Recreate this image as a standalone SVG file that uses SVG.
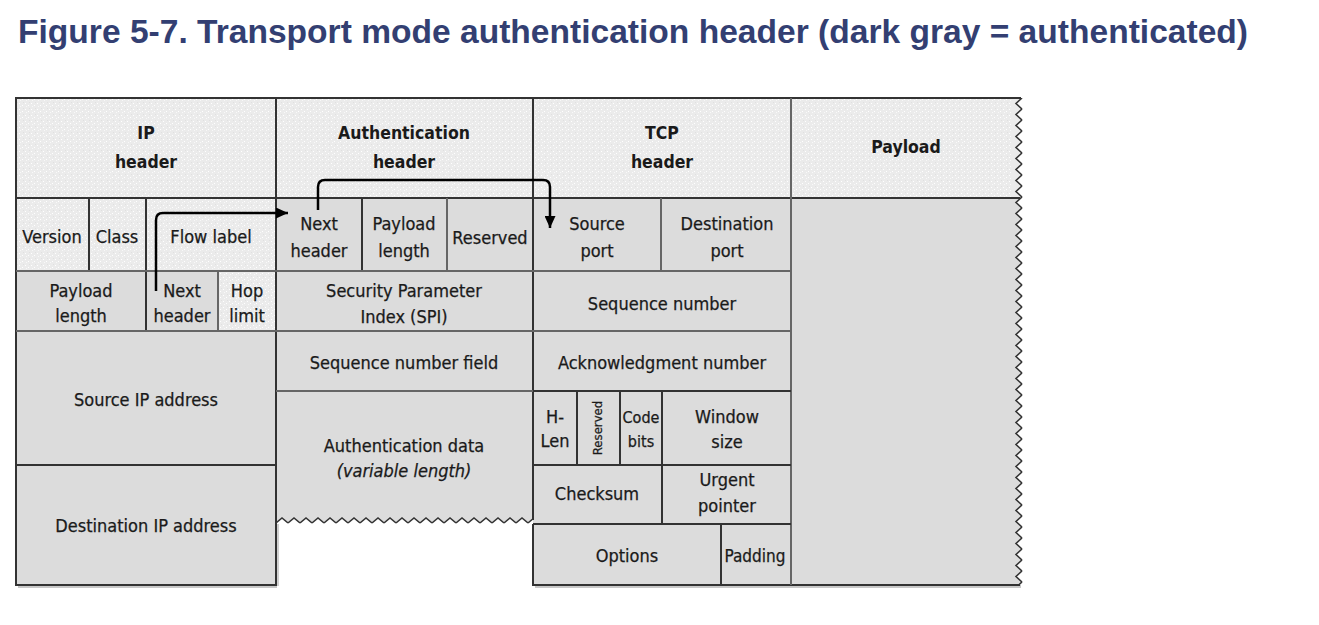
<svg xmlns="http://www.w3.org/2000/svg" width="1319" height="625" viewBox="0 0 1319 625">
<style>
.t{font-family:"DejaVu Sans Condensed","Liberation Sans Narrow","Liberation Sans",sans-serif;font-stretch:condensed;font-size:18px;fill:#1a1a1a;stroke:#1a1a1a;stroke-width:0.25;text-anchor:middle}
.h{font-family:"DejaVu Sans Condensed","Liberation Sans Narrow","Liberation Sans",sans-serif;font-stretch:condensed;font-size:17.5px;font-weight:bold;fill:#1a1a1a;text-anchor:middle}
.sm{font-size:16px}
.it{font-style:italic}
.st{fill:url(#stip)}
.dk{fill:#dcdcdc}
.ln{stroke:#333;stroke-width:2;fill:none}
.lg{stroke:#666;stroke-width:2;fill:none}
.title{font-family:"Liberation Sans",Arial,sans-serif;font-weight:bold;font-size:33px;fill:#333f72}
.arr{stroke:#000;stroke-width:2.5;fill:none;marker-end:url(#ah)}
</style>
<defs>
<pattern id="stip" patternUnits="userSpaceOnUse" width="6" height="6">
<rect width="6" height="6" fill="#ebebeb"/>
<rect x="1" y="1" width="1" height="1" fill="#fff"/>
<rect x="4" y="3" width="1" height="1" fill="#fff"/>
<rect x="2" y="4" width="1" height="1" fill="#f8f8f8"/>
<rect x="5" y="0" width="1" height="1" fill="#e0e0e0"/>
</pattern>
<pattern id="zzH" patternUnits="userSpaceOnUse" x="276" y="514" width="12" height="14">
<path d="M0,0 H12 V9 L6,4 L0,9 Z" fill="#dcdcdc"/>
<path d="M0,9 L6,4 L12,9" stroke="#333" stroke-width="1.6" fill="none"/>
</pattern>
<pattern id="zzV" patternUnits="userSpaceOnUse" x="1012" y="98" width="14" height="11">
<path d="M0,0 H10 L4,5.5 L10,11 H0 Z" fill="#dcdcdc"/>
<path d="M10,0 L4,5.5 L10,11" stroke="#333" stroke-width="1.6" fill="none"/>
</pattern>
<pattern id="zzVs" patternUnits="userSpaceOnUse" x="1012" y="98" width="14" height="11">
<path d="M0,0 H10 L4,5.5 L10,11 H0 Z" fill="#ebebeb"/>
<path d="M10,0 L4,5.5 L10,11" stroke="#333" stroke-width="1.6" fill="none"/>
</pattern>
<marker id="ah" markerUnits="userSpaceOnUse" markerWidth="13" markerHeight="11" refX="12" refY="5.5" orient="auto">
<path d="M0,0 L12,5.5 L0,11 Z" fill="#000"/>
</marker>
</defs>
<rect width="1319" height="625" fill="#fff"/>
<text class="title" x="18" y="43" textLength="1230" lengthAdjust="spacingAndGlyphs">Figure 5-7. Transport mode authentication header (dark gray = authenticated)</text>

<!-- shadow -->
<rect x="18" y="585" width="259" height="3" fill="#c8c8c8"/>
<rect x="535" y="585" width="486" height="3" fill="#c8c8c8"/>
<rect x="276" y="524" width="3" height="62" fill="#d0d0d0"/>

<g id="ip-header"><rect class="st" x="16" y="98" width="260" height="100"/><text class="h" x="146" y="139">IP</text><text class="h" x="146" y="168">header</text></g>
<g id="ip-version"><rect class="st" x="16" y="198" width="73" height="73"/><text class="t" x="52" y="243">Version</text></g>
<g id="ip-class"><rect class="st" x="89" y="198" width="57" height="73"/><text class="t" x="117" y="243">Class</text></g>
<g id="ip-flow"><rect class="st" x="146" y="198" width="130" height="73"/><text class="t" x="211" y="243">Flow label</text></g>
<g id="ip-paylen"><rect class="dk" x="16" y="271" width="130" height="60"/><text class="t" x="81" y="297">Payload</text><text class="t" x="81" y="322">length</text></g>
<g id="ip-next"><rect class="dk" x="146" y="271" width="72" height="60"/><text class="t" x="182" y="297">Next</text><text class="t" x="182" y="322">header</text></g>
<g id="ip-hop"><rect class="st" x="218" y="271" width="58" height="60"/><text class="t" x="247" y="297">Hop</text><text class="t" x="247" y="322">limit</text></g>
<g id="ip-src"><rect class="dk" x="16" y="331" width="260" height="134"/><text class="t" x="146" y="406">Source IP address</text></g>
<g id="ip-dst"><rect class="dk" x="16" y="465" width="260" height="120"/><text class="t" x="146" y="532">Destination IP address</text></g>

<g id="ah-header"><rect class="st" x="276" y="98" width="257" height="100"/><text class="h" x="404" y="139">Authentication</text><text class="h" x="404" y="168">header</text></g>
<g id="ah-next"><rect class="dk" x="276" y="198" width="86" height="73"/><text class="t" x="319" y="230">Next</text><text class="t" x="319" y="257">header</text></g>
<g id="ah-paylen"><rect class="dk" x="362" y="198" width="85" height="73"/><text class="t" x="404" y="230">Payload</text><text class="t" x="404" y="257">length</text></g>
<g id="ah-reserved"><rect class="dk" x="447" y="198" width="86" height="73"/><text class="t" x="490" y="244">Reserved</text></g>
<g id="ah-spi"><rect class="dk" x="276" y="271" width="257" height="60"/><text class="t" x="404" y="297">Security Parameter</text><text class="t" x="404" y="323">Index (SPI)</text></g>
<g id="ah-seq"><rect class="dk" x="276" y="331" width="257" height="60"/><text class="t" x="404" y="369">Sequence number field</text></g>
<g id="ah-data"><rect class="dk" x="276" y="391" width="257" height="124"/><rect x="276" y="514" width="257" height="14" fill="url(#zzH)"/><text class="t" x="404" y="452">Authentication data</text><text class="t it" x="404" y="477">(variable length)</text></g>

<g id="tcp-header"><rect class="st" x="533" y="98" width="258" height="100"/><text class="h" x="662" y="139">TCP</text><text class="h" x="662" y="168">header</text></g>
<g id="tcp-srcport"><rect class="dk" x="533" y="198" width="128" height="73"/><text class="t" x="597" y="230">Source</text><text class="t" x="597" y="257">port</text></g>
<g id="tcp-dstport"><rect class="dk" x="661" y="198" width="130" height="73"/><text class="t" x="727" y="230">Destination</text><text class="t" x="727" y="257">port</text></g>
<g id="tcp-seq"><rect class="dk" x="533" y="271" width="258" height="60"/><text class="t" x="662" y="310">Sequence number</text></g>
<g id="tcp-ack"><rect class="dk" x="533" y="331" width="258" height="60"/><text class="t" x="662" y="369">Acknowledgment number</text></g>
<g id="tcp-hlen"><rect class="dk" x="533" y="391" width="44" height="74"/><text class="t" x="555" y="423">H-</text><text class="t" x="555" y="447">Len</text></g>
<g id="tcp-reserved"><rect class="dk" x="577" y="391" width="43" height="74"/><text class="t" style="font-size:13px" transform="translate(602,428) rotate(-90)">Reserved</text></g>
<g id="tcp-code"><rect class="dk" x="620" y="391" width="42" height="74"/><text class="t sm" x="641" y="423">Code</text><text class="t sm" x="641" y="447">bits</text></g>
<g id="tcp-window"><rect class="dk" x="662" y="391" width="129" height="74"/><text class="t" x="727" y="423">Window</text><text class="t" x="727" y="448">size</text></g>
<g id="tcp-checksum"><rect class="dk" x="533" y="465" width="129" height="59"/><text class="t" x="597" y="500">Checksum</text></g>
<g id="tcp-urgent"><rect class="dk" x="662" y="465" width="129" height="59"/><text class="t" x="727" y="486">Urgent</text><text class="t" x="727" y="512">pointer</text></g>
<g id="tcp-options"><rect class="dk" x="533" y="524" width="188" height="61"/><text class="t" x="627" y="562">Options</text></g>
<g id="tcp-padding"><rect class="dk" x="721" y="524" width="70" height="61"/><text class="t" style="font-size:17px" x="755" y="562">Padding</text></g>

<g id="payload"><rect class="st" x="791" y="98" width="224" height="100"/><rect class="dk" x="791" y="198" width="224" height="387"/><rect x="1012" y="98" width="14" height="100" fill="url(#zzVs)"/><rect x="1012" y="198" width="14" height="387" fill="url(#zzV)"/><text class="h" x="906" y="153">Payload</text></g>

<g id="lines">
<path class="ln" d="M1021,98 H16 V585 H276 V98"/>
<path class="ln" d="M16,198 H1020"/>
<path class="ln" d="M533,98 V520 M533,524 V585 H1020"/>
<path class="lg" d="M791,98 V585"/>
<path class="ln" d="M89,198 V271 M146,198 V331 M362,198 V271"/>
<path class="lg" d="M218,271 V331 M447,198 V271 M661,198 V271"/>
<path class="lg" d="M16,271 H791 M16,331 H791 M276,391 H791"/>
<path class="ln" d="M16,465 H276 M533,465 H791 M533,524 H791 M533,391 H791"/>
<path class="ln" d="M577,391 V465 M620,391 V465 M662,391 V524 M721,524 V585"/>
</g>

<g id="connectors">
<path class="arr" d="M156,291 V220 Q156,213 163,213 H288"/>
<path class="arr" d="M318,210 V187 Q318,180 325,180 H543 Q550,180 550,187 V228"/>
</g>
</svg>
